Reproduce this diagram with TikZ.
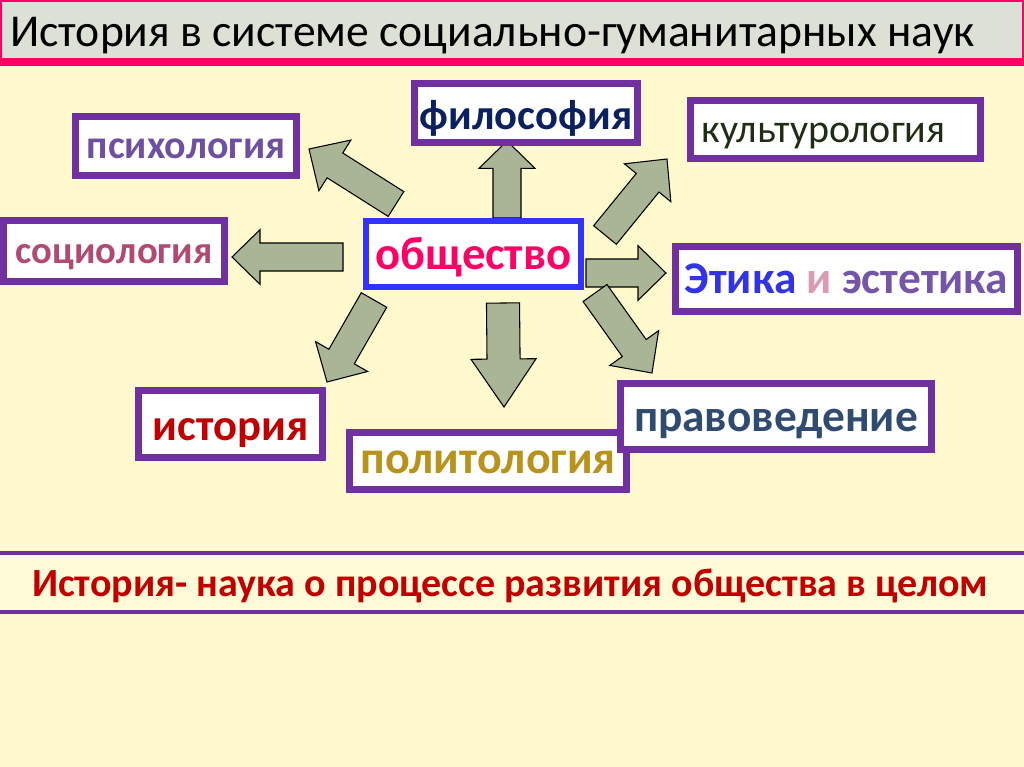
\documentclass[tikz,border=0pt]{standalone}
\usepackage{fontspec}
\setmainfont{Carlito}
\usetikzlibrary{calc}
\definecolor{bgc}{HTML}{FFF9CD}
\definecolor{bandc}{HTML}{FFFBD8}
\definecolor{titlec}{HTML}{DDE0D4}
\definecolor{pinkc}{HTML}{FF0066}
\definecolor{purp}{HTML}{7030A0}
\definecolor{arrc}{HTML}{A9B594}
\definecolor{bluec}{HTML}{3333FF}
\definecolor{psyc}{HTML}{6F4FA0}
\definecolor{filc}{HTML}{0A2060}
\definecolor{culc}{HTML}{1F2D14}
\definecolor{socc}{HTML}{B04A72}
\definecolor{etc}{HTML}{3333E6}
\definecolor{ic}{HTML}{D99BB0}
\definecolor{estc}{HTML}{7455A8}
\definecolor{hisc}{HTML}{C00000}
\definecolor{polc}{HTML}{B8921B}
\definecolor{pravc}{HTML}{2F4B6F}
\tikzset{
  arr/.style={fill=arrc, draw=black, line width=0.8pt, line join=miter},
  box/.style={draw=purp, fill=white, line width=5.25pt, inner sep=0pt,
    text height=27pt, text depth=6pt},
}
\newcommand\fsz[1]{\fontsize{#1}{#1}\selectfont}
\newcommand\blockarr[5]{%
  \coordinate (#2hb) at ($(#2)!#5!(#1)$);
  \draw[arr] ($(#1)!#3!90:(#2)$) -- ($(#2hb)!#3!-90:(#1)$) -- ($(#2hb)!#4!-90:(#1)$)
    -- (#2) -- ($(#2hb)!#4!90:(#1)$) -- ($(#2hb)!#3!90:(#1)$) -- ($(#1)!#3!-90:(#2)$) -- cycle;
}
% box macro: name, x1, y1, x2, y2 (outer px), style, text
\newcommand\bx[7]{%
  \node[box,#6,minimum width={(#4-#2-7)*0.75pt},minimum height={(#5-#3-7)*0.75pt}]
    (#1) at ({(#2+#4)/2},{(#3+#5)/2}) {#7};
}
\begin{document}
\begin{tikzpicture}[x=0.75pt,y=-0.75pt]
\useasboundingbox (0,0) rectangle (1024,767);
\fill[bgc] (0,0) rectangle (1024,767);
% title
\fill[titlec] (0,0) rectangle (1024,62);
\draw[pinkc, line width=1.8pt] (1,1) rectangle (1023,62);
\fill[pinkc] (0,58) rectangle (1024,66);
\node[anchor=base west, inner sep=0pt, font=\fsz{34.2}] (title) at (10,47)
  {История в системе социально-гуманитарных наук};
% bottom band
\fill[bandc] (0,553) rectangle (1024,612);
\draw[purp, line width=3pt] (0,553) -- (1024,553);
\draw[purp, line width=3pt] (0,612) -- (1024,612);
\node[anchor=base, inner sep=0pt, text=hisc, font=\fsz{30}\bfseries] (defn) at (510,596)
  {История- наука о процессе развития общества в целом};
% arrows
\coordinate (tU) at (507,218);   \coordinate (pU) at (507,141);
\coordinate (tD) at (503,303);   \coordinate (pD) at (504,407);
\coordinate (tL) at (343,257);   \coordinate (pL) at (232,257);
\coordinate (tR) at (586,273);   \coordinate (pR) at (666,273);
\coordinate (tUL) at (396,204);  \coordinate (pUL) at (309,149);
\coordinate (tUR) at (605,235);  \coordinate (pUR) at (667,159);
\coordinate (tDL) at (374,300);  \coordinate (pDL) at (327,382);
\coordinate (tDR) at (595,293);  \coordinate (pDR) at (652,373);
\blockarr{tU}{pU}{10.5pt}{21pt}{20.5pt}
\blockarr{tD}{pD}{12.4pt}{24.4pt}{36pt}
\blockarr{tL}{pL}{10.5pt}{20.5pt}{21pt}
\blockarr{tR}{pR}{10.5pt}{20.5pt}{21pt}
\blockarr{tUL}{pUL}{11pt}{22.5pt}{23pt}
\blockarr{tUR}{pUR}{11pt}{22.5pt}{23pt}
\blockarr{tDL}{pDL}{11pt}{22.5pt}{22pt}
\blockarr{tDR}{pDR}{11pt}{22.5pt}{23pt}
% boxes
\bx{psy}{72}{113}{300}{179}{text=psyc,font=\fsz{30}\bfseries,text height=25pt}{психология}
\bx{fil}{411}{80}{641}{146}{text=filc,font=\fsz{32}\bfseries,text height=30pt}{философия}
\bx{cul}{687}{97}{984}{162}{text=culc,font=\fsz{30},text height=25pt}{\hspace*{-18pt}культурология}
\bx{soc}{0}{217}{228}{285}{text=socc,font=\fsz{29}\bfseries,text height=25pt}{социология}
\node[box, draw=bluec, line width=4.5pt, text=pinkc, font=\fsz{35}\bfseries, text height=29pt,
  minimum width={(584-363-6)*0.75pt}, minimum height={(290-218-6)*0.75pt}]
  (obsh) at ({(363+584)/2},{(218+290)/2}) {общество};
\bx{eth}{672}{243}{1021}{315}{font=\fsz{34}\bfseries}{\textcolor{etc}{Этика} \textcolor{ic}{и} \textcolor{estc}{эстетика}}
\bx{his}{135}{387}{326}{461}{text=hisc,font=\fsz{33.5}\bfseries,text height=31pt}{история}
\bx{pol}{346}{429}{630}{493}{text=polc,font=\fsz{34.5}\bfseries,text height=24pt}{политология}
\bx{prav}{617}{380}{935}{453}{text=pravc,font=\fsz{34}\bfseries,text height=29pt}{правоведение}
\end{tikzpicture}
\end{document}
